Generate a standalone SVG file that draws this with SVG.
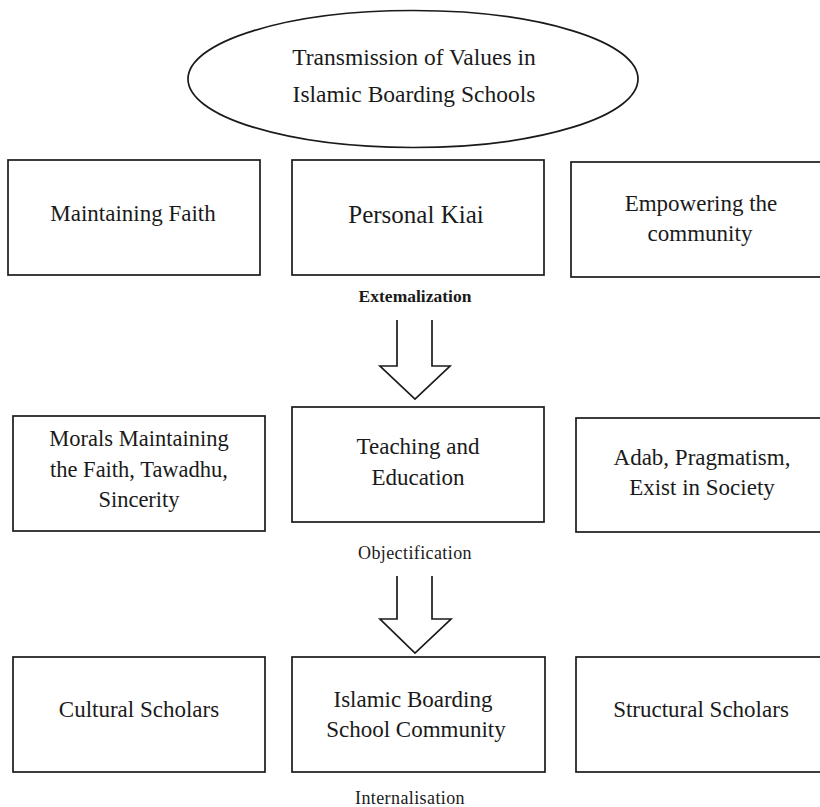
<svg xmlns="http://www.w3.org/2000/svg" width="820" height="807" viewBox="0 0 820 807">
<style>
  .box { fill: #ffffff; stroke: #1a1a1a; stroke-width: 1.7; }
  .t { font-family: "Liberation Serif", "Times New Roman", serif; font-size: 23px; fill: #1a1a1a; text-anchor: middle; }
  .lbl { font-family: "Liberation Serif", "Times New Roman", serif; font-size: 18px; fill: #1a1a1a; text-anchor: middle; letter-spacing: 0.4px; }
  .arrow { fill: #ffffff; stroke: #1a1a1a; stroke-width: 1.7; stroke-linejoin: miter; }
</style>
<rect x="0" y="0" width="820" height="807" fill="#ffffff"/>

<g id="title">
  <ellipse cx="413" cy="79" rx="225" ry="68.5" class="box"/>
  <text class="t" style="font-size:23.5px" x="414" y="65">Transmission of Values in</text>
  <text class="t" style="font-size:23.5px" x="414" y="102">Islamic Boarding Schools</text>
</g>

<g id="maintaining-faith">
  <rect class="box" x="8" y="160" width="252" height="115"/>
  <text class="t" x="133" y="221">Maintaining Faith</text>
</g>
<g id="personal-kiai">
  <rect class="box" x="292" y="160" width="252" height="115"/>
  <text class="t" style="font-size:25px" x="416" y="223">Personal Kiai</text>
</g>
<g id="empowering-community">
  <rect class="box" x="571" y="162" width="255" height="115"/>
  <text class="t" x="701" y="211">Empowering the</text>
  <text class="t" x="700" y="241">community</text>
</g>

<g id="morals">
  <rect class="box" x="13" y="416" width="252" height="115"/>
  <text class="t" style="font-size:22.5px" x="139" y="446">Morals Maintaining</text>
  <text class="t" style="font-size:22.5px" x="139" y="477">the Faith, Tawadhu,</text>
  <text class="t" style="font-size:22.5px" x="139" y="507">Sincerity</text>
</g>
<g id="teaching-education">
  <rect class="box" x="292" y="407" width="252" height="115"/>
  <text class="t" x="418" y="454">Teaching and</text>
  <text class="t" x="418" y="485">Education</text>
</g>
<g id="adab">
  <rect class="box" x="576" y="418" width="254" height="114"/>
  <text class="t" x="702" y="465">Adab, Pragmatism,</text>
  <text class="t" x="702" y="495">Exist in Society</text>
</g>

<g id="cultural-scholars">
  <rect class="box" x="13" y="657" width="252" height="115"/>
  <text class="t" x="139" y="717">Cultural Scholars</text>
</g>
<g id="community">
  <rect class="box" x="292" y="657" width="253" height="115"/>
  <text class="t" x="413" y="707">Islamic Boarding</text>
  <text class="t" x="416" y="737">School Community</text>
</g>
<g id="structural-scholars">
  <rect class="box" x="576" y="657" width="254" height="115"/>
  <text class="t" x="701" y="717">Structural Scholars</text>
</g>

<g id="connectors">
  <path class="arrow" d="M397,320 V366 H380 L415,399 L450,366 H432 V320"/>
  <text class="lbl" style="font-size:17.5px;font-weight:bold;letter-spacing:0" x="415" y="302">Extemalization</text>
  <path class="arrow" d="M397,576 V619 H380 L415,653 L451,619 H432 V576"/>
  <text class="lbl" x="415" y="559">Objectification</text>
  <text class="lbl" x="410" y="804">Internalisation</text>
</g>
</svg>
